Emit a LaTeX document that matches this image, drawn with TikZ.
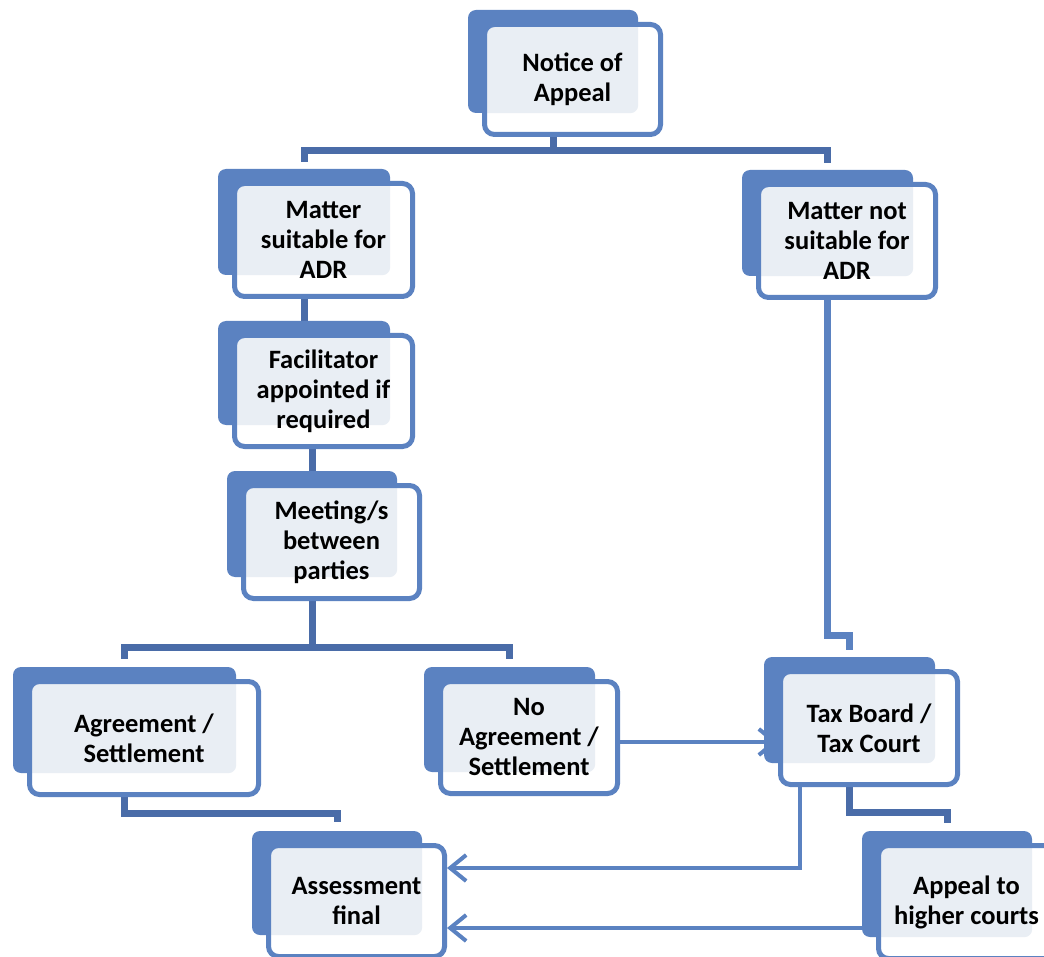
\documentclass[tikz,border=0pt]{standalone}
\usepackage{fontspec}
\setmainfont{Carlito}
\usetikzlibrary{arrows.meta,calc}
\pgfdeclarelayer{bg}
\pgfsetlayers{bg,main}
\definecolor{boxblue}{RGB}{91,130,193}
\definecolor{treeblue}{RGB}{74,108,168}
\definecolor{lightfill}{RGB}{233,238,244}
\tikzset{
  backbox/.style={fill=boxblue, rounded corners=8pt, inner sep=0pt, draw=none},
  frontbox/.style={fill=white, draw=boxblue, line width=5pt, rounded corners=10pt,
    inner sep=0pt, align=center, font=\bfseries\fontsize{26.5}{30}\selectfont, text=black},
  tree/.style={draw=treeblue, line width=7pt, line join=miter},
  feed/.style={draw=boxblue, line width=7pt, line join=miter},
  arr/.style={draw=boxblue, line width=4pt, -{Straight Barb[length=16pt,width=26pt]}},
}
\newcommand\abox[6]{%
  \node[backbox, minimum width={#4-#2}, minimum height={#5-#3}] (#1) at ({(#2+#4)/2},{(#3+#5)/2}) {};
  \node[frontbox, minimum width={#4-#2+6}, minimum height={#5-#3+7},
    path picture={\fill[lightfill,rounded corners=8pt] (#1.south west) rectangle (#1.north east);}]
    (#1F) at ({(#2+#4)/2+19.5},{(#3+#5)/2+18}) {#6};
}
\begin{document}
\begin{tikzpicture}[x=1pt,y=-1pt]
\useasboundingbox (0,0) rectangle (1044,957);
\abox{notice}{468}{10}{638}{113}{Notice of\\Appeal}
\abox{suit}{218}{169}{390}{275}{Matter\\suitable for\\ADR}
\abox{notsuit}{742}{170}{913}{276}{Matter not\\suitable for\\ADR}
\abox{facil}{218}{321}{390}{425}{Facilitator\\appointed if\\required}
\abox{meet}{227}{471}{397}{577}{Meeting/s\\between\\parties}
\abox{agree}{13}{667}{236}{773}{Agreement /\\Settlement}
\abox{noagree}{424}{667}{595}{772}{No\\Agreement /\\Settlement}
\abox{tax}{764}{657}{935}{763}{Tax Board /\\Tax Court}
\abox{assess}{252}{831}{422}{935}{Assessment\\final}
\abox{appeal}{862}{831}{1032}{937}{Appeal to\\higher courts}
\begin{pgfonlayer}{bg}
\draw[tree] (notice.south) -- ++(0,37) coordinate (t1);
\draw[tree] ([yshift=7pt]suit.north) |- (t1) -| ([yshift=7pt]notsuit.north);
\draw[tree] (suit.south) -- (facil.north);
\draw[tree] (facil.south -| meet.north) -- (meet.north);
\draw[tree] (meet.south) -- ++(0,70) coordinate (t2);
\draw[tree] ([yshift=8pt]agree.north) |- (t2) -| ([yshift=8pt]noagree.north);
\draw[tree] (agree.south) -- ++(0,40) -| ([yshift=9pt]assess.north);
\draw[tree] (tax.south) -- ++(0,49) -| ([yshift=8pt]appeal.north);
\draw[feed] (notsuit.south) -- ++(0,359) -| ([yshift=7pt]tax.north);
\end{pgfonlayer}
\draw[arr] ([yshift=-4.5pt]noagreeF.east) coordinate (a1) -- (a1 -| taxF.west);
\draw[arr] ([xshift=22pt]taxF.south west) |- ([yshift=33pt]assessF.east);
\coordinate (a3) at ([yshift=-27pt]assessF.east);
\draw[arr] (a3 -| appeal.west) -- (a3);
\end{tikzpicture}
\end{document}
